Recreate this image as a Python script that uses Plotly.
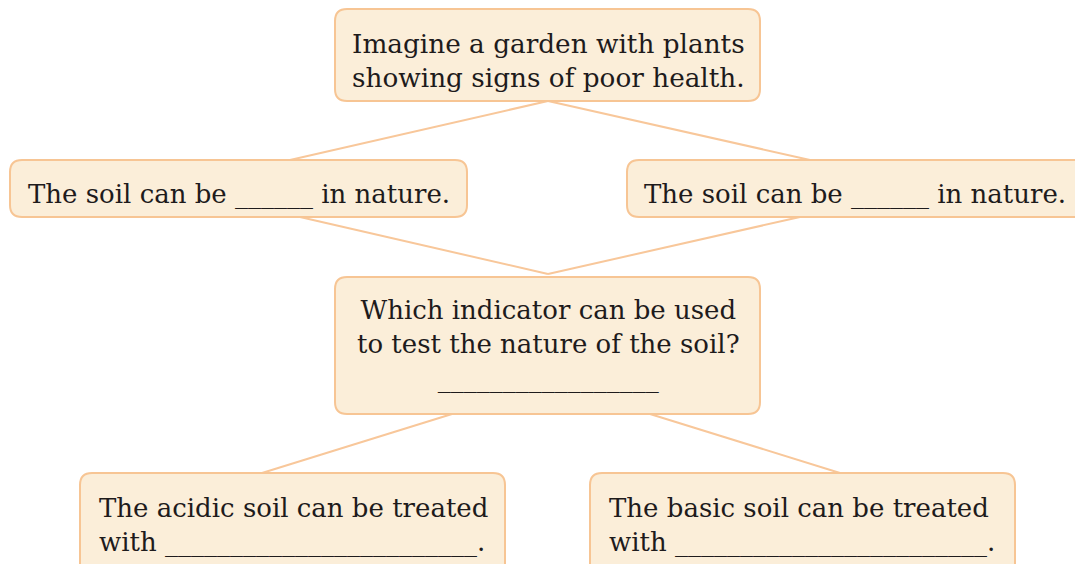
import plotly.graph_objects as go

# ---- diagram content ----
box_texts = [
    "Imagine a garden with plants<br>showing signs of poor health.",
    "The soil can be ______ in nature.",
    "The soil can be ______ in nature.",
    "Which indicator can be used<br>to test the nature of the soil?<br>_________________",
    "The acidic soil can be treated<br>with ________________________.",
    "The basic soil can be treated<br>with ________________________.",
]
# edges: (from box, to box)
edges = [(0, 1), (0, 2), (1, 3), (2, 3), (3, 4), (3, 5)]

# ---- geometry (pixel space) ----
box_x0 = [335, 10, 627, 335, 80, 590]
box_x1 = [760, 467, 1090, 760, 505, 1015]
box_y0 = [9, 160, 160, 277, 473, 473]
box_y1 = [101, 217, 217, 414, 580, 580]
text_x = [548, 26, 642, 548, 97, 607]
text_y = [61, 194, 194, 344, 525, 525]
text_size = [26.3, 26, 26, 26, 26, 26]
text_anchor = ["center", "left", "left", "center", "left", "left"]
# edge anchor points
edge_start = [(548, 101), (548, 101), (300, 217), (800, 217), (452, 414), (650, 414)]
edge_end = [(290, 160), (810, 160), (548, 274), (548, 274), (262, 473), (840, 473)]

FILL = "#FBEED9"
BORDER = "#F7C594"
LINE = "#F8C79A"
TEXT = "#1E1B1C"
FONT = "DejaVu Serif"

fig = go.Figure()
fig.add_trace(go.Scatter(x=[0, 1075], y=[0, 564], mode="markers",
                         marker=dict(opacity=0), hoverinfo="skip", showlegend=False))

shapes = []
for (sx, sy), (ex, ey) in zip(edge_start, edge_end):
    shapes.append(dict(type="line", xref="x", yref="y", x0=sx, y0=sy, x1=ex, y1=ey,
                       line=dict(color=LINE, width=2), layer="below"))

r = 12
for x0, x1, y0, y1 in zip(box_x0, box_x1, box_y0, box_y1):
    path = (f"M {x0+r},{y0} L {x1-r},{y0} Q {x1},{y0} {x1},{y0+r} "
            f"L {x1},{y1-r} Q {x1},{y1} {x1-r},{y1} L {x0+r},{y1} "
            f"Q {x0},{y1} {x0},{y1-r} L {x0},{y0+r} Q {x0},{y0} {x0+r},{y0} Z")
    shapes.append(dict(type="path", xref="x", yref="y", path=path,
                       fillcolor=FILL, line=dict(color=BORDER, width=2), layer="above"))

annotations = []
for t, x, y, s, a in zip(box_texts, text_x, text_y, text_size, text_anchor):
    annotations.append(dict(x=x, y=y, xref="x", yref="y", text=t, showarrow=False,
                            xanchor=a, yanchor="middle", align=a,
                            font=dict(family=FONT, size=s, color=TEXT)))

fig.update_layout(
    width=1075, height=564,
    margin=dict(l=0, r=0, t=0, b=0),
    paper_bgcolor="white", plot_bgcolor="white",
    xaxis=dict(range=[0, 1075], visible=False, fixedrange=True),
    yaxis=dict(range=[564, 0], visible=False, fixedrange=True),
    shapes=shapes, annotations=annotations, showlegend=False,
)
fig.write_html("out.html", config={"displayModeBar": False},
               post_script="document.body.style.margin='0';")
